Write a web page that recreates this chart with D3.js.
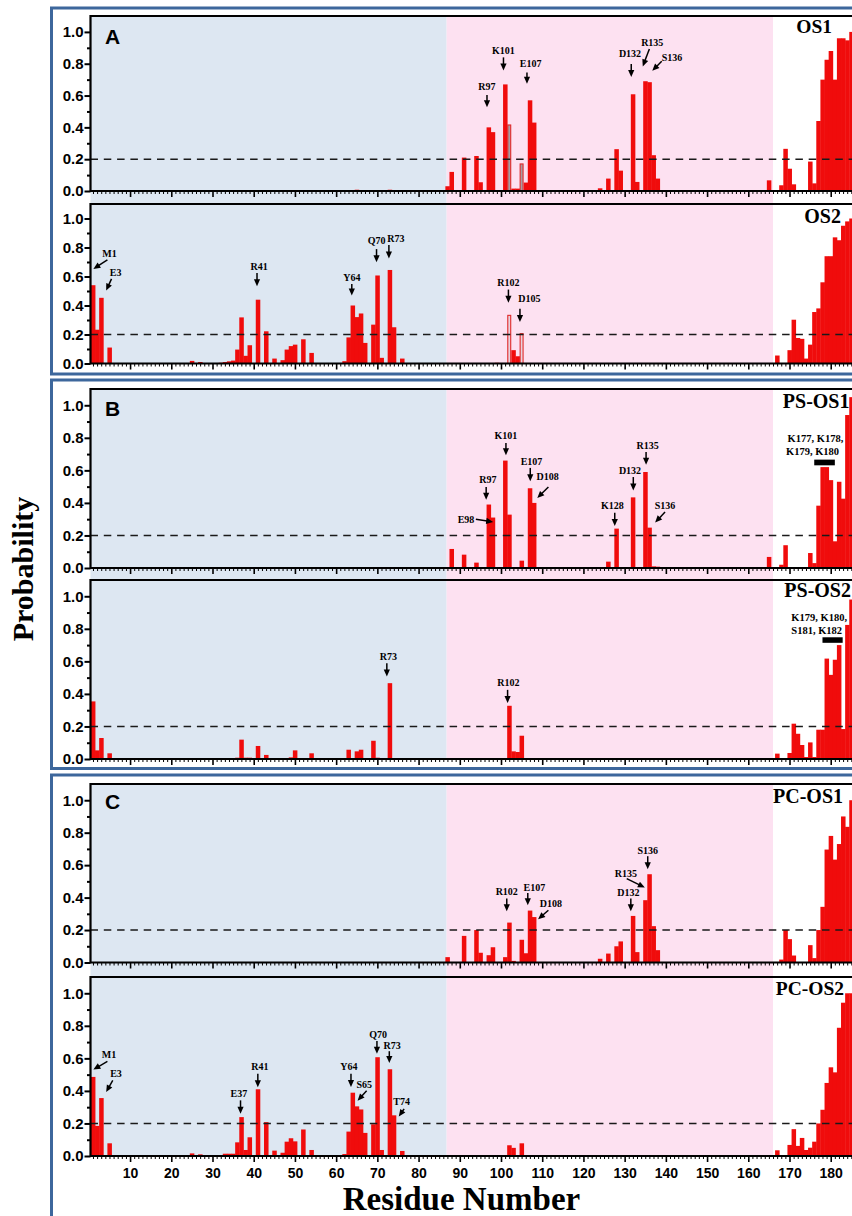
<!DOCTYPE html>
<html>
<head>
<meta charset="utf-8">
<script src="https://cdn.jsdelivr.net/npm/d3@7"></script>
<style>
body { margin: 0; background: #fff; }
svg { display: block; }
</style>
</head>
<body>
<svg id="chart" width="852" height="1216"></svg>
<script>
// residue, probability
var os1 = [[65,0.008],[73,0.008],
  [87,0.03],[88,0.12],[91,0.21],[94,0.22],[95,0.055],[97,0.40],[98,0.37],[101,0.67],[103,0.015],[104,0.015],
  [106,0.053],[107,0.57],[108,0.43],[124,0.017],[126,0.078],[128,0.263],[129,0.128],[132,0.608],[133,0.057],
  [135,0.69],[136,0.684],[137,0.225],[138,0.078],[165,0.067],[168,0.036],[169,0.265],[170,0.14],[171,0.042],
  [175,0.185],[176,0.048],[177,0.44],[178,0.70],[179,0.825],[180,0.88],[181,0.70],[182,0.96],[183,0.96],
  [184,0.947],[185,1.0]];
var os1Hollow = [[102,0.415],[105,0.17]];

var os2 = [[1,0.54],[2,0.233],[3,0.453],[5,0.11],[25,0.018],[27,0.01],[32,0.005],[33,0.01],[34,0.015],[35,0.02],
  [36,0.096],[37,0.318],[38,0.053],[39,0.126],[41,0.44],[43,0.222],[45,0.034],[47,0.023],[48,0.096],[49,0.12],
  [50,0.13],[52,0.167],[54,0.073],[62,0.016],[63,0.18],[64,0.40],[65,0.32],[66,0.345],[67,0.142],[69,0.268],
  [70,0.607],[71,0.039],[73,0.645],[74,0.25],[76,0.034],[99,0.005],[103,0.092],[104,0.05],
  [167,0.055],[170,0.092],[171,0.302],[172,0.176],[173,0.17],[174,0.034],[175,0.13],[176,0.355],[177,0.38],
  [178,0.56],[179,0.74],[180,0.74],[181,0.87],[182,0.85],[183,0.95],[184,0.98],[185,1.0]];
var os2Hollow = [[102,0.332],[105,0.206]];

var psos1 = [[73,0.005],[88,0.117],[91,0.082],[94,0.033],[97,0.39],[98,0.31],[101,0.66],[102,0.328],[105,0.045],
  [107,0.49],[108,0.40],[126,0.039],[128,0.242],[132,0.434],[135,0.59],[136,0.248],[137,0.01],[138,0.008],
  [165,0.068],[168,0.02],[169,0.14],[175,0.092],[176,0.03],[177,0.383],[178,0.62],[179,0.62],[180,0.54],
  [181,0.164],[182,0.53],[183,0.426],[184,0.94],[185,1.05]];

var psos2 = [[1,0.354],[2,0.053],[3,0.129],[5,0.035],[36,0.008],[37,0.119],[38,0.008],[39,0.008],[41,0.08],
  [43,0.025],[49,0.01],[50,0.053],[54,0.035],[63,0.057],[64,0.005],[65,0.047],[66,0.057],[69,0.112],[70,0.008],
  [73,0.466],[102,0.327],[103,0.047],[104,0.043],[105,0.143],[167,0.033],[170,0.037],[171,0.217],[172,0.155],
  [173,0.086],[174,0.012],[175,0.102],[176,0.012],[177,0.18],[178,0.18],[179,0.617],[180,0.517],[181,0.61],
  [182,0.70],[183,0.184],[184,0.824],[185,0.98]];

var pcos1 = [[87,0.033],[91,0.164],[94,0.20],[95,0.06],[97,0.045],[98,0.094],[101,0.033],[102,0.246],[103,0.01],
  [105,0.14],[106,0.057],[107,0.32],[108,0.28],[124,0.023],[126,0.055],[128,0.10],[129,0.13],[132,0.287],
  [133,0.064],[135,0.384],[136,0.544],[137,0.224],[138,0.076],[168,0.018],[169,0.20],[170,0.144],[171,0.043],
  [175,0.107],[176,0.027],[177,0.20],[178,0.343],[179,0.696],[180,0.78],[181,0.634],[182,0.73],[183,0.90],
  [184,0.836],[185,1.0]];

var pcos2 = [[1,0.486],[2,0.185],[3,0.356],[5,0.078],[25,0.016],[27,0.01],[32,0.005],[33,0.014],[34,0.014],
  [35,0.014],[36,0.084],[37,0.239],[38,0.037],[39,0.115],[41,0.41],[43,0.208],[45,0.033],[47,0.02],[48,0.088],
  [49,0.109],[50,0.09],[52,0.163],[54,0.037],[62,0.012],[63,0.15],[64,0.389],[65,0.305],[66,0.286],[67,0.142],
  [69,0.195],[70,0.607],[71,0.037],[73,0.533],[74,0.25],[76,0.031],[102,0.066],[103,0.05],[105,0.078],
  [167,0.035],[170,0.068],[171,0.165],[172,0.062],[173,0.111],[174,0.037],[175,0.051],[176,0.088],[177,0.20],
  [178,0.284],[179,0.449],[180,0.545],[181,0.514],[182,0.788],[183,0.942],[184,1.0],[185,1.0]];

// label, text (residue, prob), arrow tail (residue, prob), arrow tip (residue, prob)
var os1Notes = [
  ["R97", 96.6,0.632, 96.6,0.604, 96.6,0.526],
  ["K101", 100.6,0.861, 100.6,0.84, 100.6,0.758],
  ["E107", 107.2,0.779, 106.3,0.745, 106.3,0.674],
  ["D132", 131.3,0.842, 131.6,0.798, 131.6,0.716],
  ["R135", 136.7,0.909, 136.0,0.893, 134.4,0.783],
  ["S136", 141.5,0.819, 139.0,0.815, 136.7,0.756]];
var os2Notes = [
  ["M1", 5.0,0.732, 4.5,0.714, 1.1,0.652],
  ["E3", 6.5,0.606, 5.5,0.584, 4.2,0.503],
  ["R41", 41.3,0.648, 40.8,0.625, 40.8,0.533],
  ["Y64", 63.8,0.572, 63.8,0.549, 63.8,0.469],
  ["Q70", 69.8,0.824, 69.8,0.789, 69.8,0.698],
  ["R73", 74.5,0.835, 72.8,0.817, 72.8,0.725],
  ["R102", 101.8,0.533, 101.8,0.51, 101.8,0.419],
  ["D105", 106.9,0.423, 104.6,0.378, 104.6,0.286]];
var psos1Notes = [
  ["K101", 101.2,0.791, 101.2,0.768, 101.2,0.693],
  ["R97", 96.8,0.525, 96.4,0.498, 96.4,0.42],
  ["E98", 91.5,0.279, 93.9,0.299, 98.1,0.283],
  ["E107", 107.4,0.635, 107.1,0.615, 107.1,0.533],
  ["D108", 111.3,0.539, 111.5,0.498, 108.8,0.43],
  ["K128", 127.0,0.361, 127.6,0.34, 127.6,0.258],
  ["D132", 131.3,0.58, 132.1,0.559, 132.1,0.477],
  ["R135", 135.6,0.73, 135.2,0.713, 135.2,0.635],
  ["S136", 139.8,0.361, 139.8,0.344, 137.4,0.279]];
var psos2Notes = [
  ["R73", 72.7,0.609, 72.3,0.589, 72.3,0.507],
  ["R102", 101.8,0.446, 101.6,0.425, 101.6,0.344]];
var pcos1Notes = [
  ["R102", 101.4,0.419, 101.4,0.394, 101.4,0.316],
  ["E107", 108.1,0.441, 106.5,0.429, 106.5,0.353],
  ["D108", 112.1,0.339, 111.5,0.322, 109.0,0.267],
  ["D132", 130.9,0.411, 131.5,0.394, 131.5,0.316],
  ["R135", 130.3,0.528, 130.5,0.517, 134.9,0.462],
  ["S136", 135.6,0.671, 135.6,0.655, 135.6,0.575]];
var pcos2Notes = [
  ["M1", 4.9,0.603, 4.5,0.582, 1.1,0.531],
  ["E3", 6.6,0.486, 5.8,0.465, 4.2,0.393],
  ["E37", 36.4,0.362, 36.8,0.342, 36.8,0.259],
  ["R41", 41.5,0.527, 41.0,0.506, 41.0,0.422],
  ["Y64", 63.1,0.527, 63.6,0.506, 63.6,0.424],
  ["S65", 66.8,0.418, 67.4,0.401, 65.2,0.34],
  ["Q70", 70.2,0.726, 69.9,0.706, 69.9,0.628],
  ["R73", 73.6,0.658, 72.9,0.644, 72.9,0.572],
  ["T74", 75.9,0.315, 76.5,0.29, 75.2,0.243]];

// grouped residues: text lines, line centres, bar span
var psos1Group = {lines:["K177, K178,", "K179, K180"], at:[[176.3,0.775],[175.6,0.693]], bar:[176.0,181.0,0.666,0.631]};
var psos2Group = {lines:["K179, K180,", "S181, K182"], at:[[177.2,0.851],[176.6,0.769]], bar:[178.0,182.9,0.748,0.714]};

var xTickLabels = [10,20,30,40,50,60,70,80,90,100,110,120,130,140,150,160,170,180];
var yTickLabels = [0.0,0.2,0.4,0.6,0.8,1.0];
var yMinorTicks = [0.1,0.3,0.5,0.7,0.9];
var threshold = 0.2;
var helixEnd = 86.8, middleEnd = 166.0;

var W = 852;
var RED = "#f00c0c";
var SANS = "'Liberation Sans', Arial, sans-serif";
var SERIF = "'Liberation Serif', 'Times New Roman', serif";

var svg = d3.select("#chart");
var defs = svg.append("defs");

var xScale = d3.scaleLinear().domain([0.4, 185.6]).range([90.5, 853.8]);
var x0 = xScale(0.4);

var plots = [
  {name:"OS1", top:16, bottom:191, bars:os1, hollow:os1Hollow, hollowFill:"rgba(110,110,110,0.6)", notes:os1Notes, nx:832, ny:33.3, ns:19.5},
  {name:"OS2", top:204, bottom:363.5, bars:os2, hollow:os2Hollow, hollowFill:"rgba(150,150,150,0.2)", notes:os2Notes, nx:841, ny:223.3, ns:20},
  {name:"PS-OS1", top:389, bottom:568, bars:psos1, notes:psos1Notes, group:psos1Group, nx:849.5, ny:408.3, ns:20},
  {name:"PS-OS2", top:580, bottom:759, bars:psos2, notes:psos2Notes, group:psos2Group, nx:851, ny:596.7, ns:20},
  {name:"PC-OS1", top:784, bottom:962.5, bars:pcos1, notes:pcos1Notes, nx:843, ny:802.7, ns:20},
  {name:"PC-OS2", top:977, bottom:1156, bars:pcos2, notes:pcos2Notes, nx:844, ny:995, ns:19.5, last:true}
];

var panels = [
  {letter:"A", y0:8, y1:374, ly:44.3, first:0},
  {letter:"B", y0:380, y1:768.5, ly:415.7, first:2},
  {letter:"C", y0:775, y1:1250, ly:809.3, first:4}
];

// panel frames and coloured regions
panels.forEach(function(pn) {
  var top = plots[pn.first].top, bot = plots[pn.first + 1].bottom;
  svg.append("rect").attr("x", x0).attr("y", top)
    .attr("width", xScale(helixEnd) - x0).attr("height", bot - top).attr("fill", "#dde7f2");
  svg.append("rect").attr("x", xScale(helixEnd)).attr("y", top)
    .attr("width", xScale(middleEnd) - xScale(helixEnd)).attr("height", bot - top).attr("fill", "#fde1f1");
  svg.append("rect").attr("x", 51.5).attr("y", pn.y0).attr("width", 900).attr("height", pn.y1 - pn.y0)
    .attr("fill", "none").attr("stroke", "#3d679c").attr("stroke-width", 3);
  svg.append("text").attr("x", 105).attr("y", pn.ly).text(pn.letter)
    .attr("font-family", SANS).attr("font-weight", "bold").attr("font-size", 21);
});

function arrow(g, xa, ya, xb, yb) {
  var dx = xb - xa, dy = yb - ya, len = Math.sqrt(dx*dx + dy*dy);
  var ux = dx / len, uy = dy / len, hl = 7, hw = 3.1;
  g.append("line").attr("x1", xa).attr("y1", ya).attr("x2", xb - ux*(hl-1)).attr("y2", yb - uy*(hl-1))
    .attr("stroke", "#000").attr("stroke-width", 1.5);
  var bx = xb - ux*hl, by = yb - uy*hl;
  g.append("path").attr("d", "M" + xb + "," + yb + "L" + (bx - uy*hw) + "," + (by + ux*hw) +
    "L" + (bx + uy*hw) + "," + (by - ux*hw) + "Z").attr("fill", "#000");
}

plots.forEach(function(p, i) {
  var y = d3.scaleLinear().domain([0, 1.1]).range([p.bottom, p.top]);
  var g = svg.append("g");
  var clipId = "clip" + i;
  defs.append("clipPath").attr("id", clipId).append("rect")
    .attr("x", x0).attr("y", p.top).attr("width", W - x0).attr("height", p.bottom - p.top);

  var barG = g.append("g").attr("clip-path", "url(#" + clipId + ")");
  barG.selectAll("rect.bar").data(p.bars).enter().append("rect").attr("class", "bar")
    .attr("x", function(d) { return xScale(d[0] - 0.5); })
    .attr("width", function(d) { return xScale(d[0] + 0.5) - xScale(d[0] - 0.5) + 0.4; })
    .attr("y", function(d) { return y(d[1]); })
    .attr("height", function(d) { return y(0) - y(d[1]); })
    .attr("fill", RED);
  if (p.hollow) {
    barG.selectAll("rect.hollow").data(p.hollow).enter().append("rect").attr("class", "hollow")
      .attr("x", function(d) { return xScale(d[0] - 0.5) + 0.6; })
      .attr("width", function(d) { return xScale(d[0] + 0.5) - xScale(d[0] - 0.5) - 1.2; })
      .attr("y", function(d) { return y(d[1]); })
      .attr("height", function(d) { return y(0) - y(d[1]); })
      .attr("fill", p.hollowFill).attr("stroke", "#e02a2a").attr("stroke-width", 1.1);
  }

  // threshold line
  g.append("line").attr("x1", x0).attr("x2", W).attr("y1", y(threshold)).attr("y2", y(threshold))
    .attr("stroke", "#1a1a1a").attr("stroke-width", 1.6).attr("stroke-dasharray", "7.5,5.8");

  // y axis
  var yMaj = g.append("g").attr("transform", "translate(" + x0 + ",0)")
    .call(d3.axisLeft(y).tickValues(yTickLabels).tickFormat(d3.format(".1f")).tickSize(6).tickPadding(1));
  var yMin = g.append("g").attr("transform", "translate(" + x0 + ",0)")
    .call(d3.axisLeft(y).tickValues(yMinorTicks).tickFormat("").tickSize(3.5));
  [yMaj, yMin].forEach(function(a) {
    a.select(".domain").remove();
    a.selectAll("line").attr("stroke", "#000").attr("stroke-width", 2);
  });
  yMaj.selectAll("text").attr("font-family", SANS).attr("font-weight", "bold")
    .attr("font-size", 15).attr("fill", "#000");

  // x axis
  var minorVals = d3.range(1, 186).filter(function(v) { return v % 10 !== 0; });
  var xMin = g.append("g").attr("transform", "translate(0," + p.bottom + ")")
    .call(d3.axisBottom(xScale).tickValues(minorVals).tickFormat("").tickSize(3));
  var xMaj = g.append("g").attr("transform", "translate(0," + p.bottom + ")")
    .call(d3.axisBottom(xScale).tickValues(xTickLabels).tickSize(6).tickPadding(6)
      .tickFormat(p.last ? d3.format("d") : ""));
  xMin.select(".domain").remove();
  xMaj.select(".domain").remove();
  xMin.selectAll("line").attr("stroke", "#000").attr("stroke-width", 1);
  xMaj.selectAll("line").attr("stroke", "#000").attr("stroke-width", 1.6);
  xMaj.selectAll("text").attr("font-family", SANS).attr("font-weight", "bold")
    .attr("font-size", 14).attr("fill", "#000");

  // frame
  g.append("path").attr("d", "M" + W + "," + p.top + "H" + x0 + "V" + p.bottom + "H" + W)
    .attr("fill", "none").attr("stroke", "#000").attr("stroke-width", 2.2);

  // name
  g.append("text").attr("x", p.nx).attr("y", p.ny).attr("text-anchor", "end").text(p.name)
    .attr("font-family", SERIF).attr("font-weight", "bold").attr("font-size", p.ns);

  // annotations
  p.notes.forEach(function(d) {
    var a = g.append("g");
    a.append("text").attr("x", xScale(d[1])).attr("y", y(d[2])).attr("text-anchor", "middle").text(d[0])
      .attr("font-family", SERIF).attr("font-weight", "bold").attr("font-size", 10);
    arrow(a, xScale(d[3]), y(d[4]), xScale(d[5]), y(d[6]));
  });
  if (p.group) {
    p.group.lines.forEach(function(t, k) {
      g.append("text").attr("x", xScale(p.group.at[k][0])).attr("y", y(p.group.at[k][1]))
        .attr("text-anchor", "middle").text(t)
        .attr("font-family", SERIF).attr("font-weight", "bold").attr("font-size", 10.5);
    });
    var b = p.group.bar;
    g.append("rect").attr("x", xScale(b[0])).attr("width", xScale(b[1]) - xScale(b[0]))
      .attr("y", y(b[2])).attr("height", y(b[3]) - y(b[2])).attr("fill", "#000");
  }
});

// axis titles
svg.append("text").attr("transform", "translate(33,569) rotate(-90)").attr("text-anchor", "middle")
  .text("Probability").attr("font-family", SERIF).attr("font-weight", "bold").attr("font-size", 30);
svg.append("text").attr("x", 461.5).attr("y", 1209.5).attr("text-anchor", "middle")
  .text("Residue Number").attr("font-family", SERIF).attr("font-weight", "bold").attr("font-size", 33);
</script>
</body>
</html>
